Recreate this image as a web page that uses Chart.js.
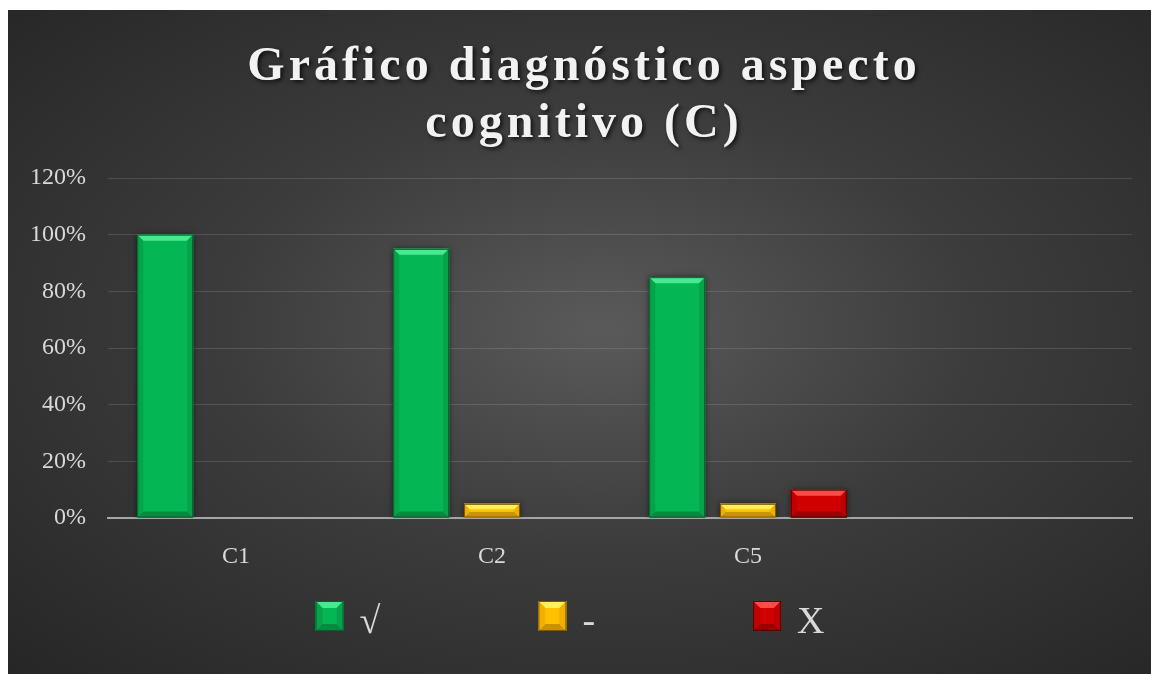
<!DOCTYPE html>
<html>
<head>
<meta charset="utf-8">
<script src="https://cdn.jsdelivr.net/npm/chart.js@4.4.1/dist/chart.umd.min.js"></script>
<style>
  html, body { margin: 0; padding: 0; background: #ffffff; width: 1151px; height: 674px; overflow: hidden; }
  #wrap {
    position: absolute; left: 8px; top: 10px; width: 1143px; height: 664px;
    background: radial-gradient(ellipse farthest-corner at 52% 48%, #5a5a5a 0%, #3c3c3c 45%, #262626 100%);
  }
  canvas { display: block; }
</style>
</head>
<body>
<div id="wrap"><canvas id="c" width="1143" height="664"></canvas></div>
<script>
const titleLines = ['Gráfico diagnóstico aspecto', 'cognitivo (C)'];
const categories = ['C1', 'C2', 'C5', ''];
const seriesNames = ['√', '-', 'X'];
const checkValues = [100, 95, 85, null];
const dashValues = [0, 5, 5, null];
const crossValues = [0, 0, 10, null];
const yTicks = [0, 20, 40, 60, 80, 100, 120];

const palette = [
  { main: '#05b654', light: '#46e890', dark: '#078a3f', side: '#06a34b', edge: '#05602c' },
  { main: '#ffc000', light: '#fff05a', dark: '#c89200', side: '#f0b000', edge: '#7a5a00' },
  { main: '#d00000', light: '#ff4a4a', dark: '#9a0000', side: '#bf0000', edge: '#5a0000' }
];

const titlePlugin = {
  id: 'customTitle',
  afterDraw(chart) {
    const ctx = chart.ctx;
    ctx.save();
    ctx.font = 'bold 48px "Liberation Serif"';
    ctx.letterSpacing = '4px';
    ctx.fillStyle = '#f2f2f2';
    ctx.textAlign = 'center';
    ctx.textBaseline = 'alphabetic';
    ctx.shadowColor = 'rgba(0,0,0,0.75)';
    ctx.shadowBlur = 4;
    ctx.shadowOffsetX = 2;
    ctx.shadowOffsetY = 2;
    const baselines = [70, 127];
    titleLines.forEach((t, i) => ctx.fillText(t, 576, baselines[i]));
    ctx.restore();
  }
};

function bevelBox(ctx, L, T, R, B, p, b) {
  ctx.fillStyle = p.main;
  ctx.fillRect(L, T, R - L, B - T);
  const poly = (pts, col) => {
    ctx.beginPath();
    ctx.moveTo(pts[0][0], pts[0][1]);
    for (let i = 1; i < pts.length; i++) ctx.lineTo(pts[i][0], pts[i][1]);
    ctx.closePath();
    ctx.fillStyle = col;
    ctx.fill();
  };
  poly([[L, T], [R, T], [R - b, T + b], [L + b, T + b]], p.light);
  poly([[L, B], [R, B], [R - b, B - b], [L + b, B - b]], p.dark);
  poly([[L, T], [L + b, T + b], [L + b, B - b], [L, B]], p.side);
  poly([[R, T], [R - b, T + b], [R - b, B - b], [R, B]], p.side);
  ctx.strokeStyle = p.edge;
  ctx.lineWidth = 1;
  ctx.strokeRect(L + 0.5, T + 0.5, R - L - 1, B - T - 1);
}

const bevelPlugin = {
  id: 'bevel',
  beforeDatasetsDraw(chart) {
    const ctx = chart.ctx;
    ctx.save();
    ctx.shadowColor = 'rgba(0,0,0,0.55)';
    ctx.shadowBlur = 6;
  },
  afterDatasetsDraw(chart) {
    const ctx = chart.ctx;
    ctx.restore();
    chart.data.datasets.forEach((ds, di) => {
      const meta = chart.getDatasetMeta(di);
      const p = palette[di];
      meta.data.forEach(el => {
        if (el.skip) return;
        const L = el.x - el.width / 2, R = el.x + el.width / 2;
        const T = Math.min(el.y, el.base), B = Math.max(el.y, el.base);
        const h = B - T;
        if (!(h > 1)) return;
        const b = Math.min(6, h / 2.5);
        ctx.save();
        bevelBox(ctx, L, T, R, B, p, b);
        ctx.restore();
      });
    });
  }
};

const legendPlugin = {
  id: 'customLegend',
  afterDraw(chart) {
    const ctx = chart.ctx;
    ctx.save();
    ctx.font = '38px "Liberation Serif"';
    const boxW = 28, boxH = 30, textGap = 16, itemGap = 158;
    const items = chart.data.datasets.map((ds, i) => ({
      label: ds.label, p: palette[i], tw: ctx.measureText(ds.label).width
    }));
    let total = 0;
    items.forEach((it, i) => { total += boxW + textGap + it.tw + (i ? itemGap : 0); });
    let x = 570 - 8 - total / 2;
    const top = 591, baseline = 623;
    items.forEach(it => {
      bevelBox(ctx, x, top, x + boxW, top + boxH, it.p, 7);
      ctx.fillStyle = '#d9d9d9';
      ctx.textBaseline = 'alphabetic';
      ctx.fillText(it.label, x + boxW + textGap, baseline);
      x += boxW + textGap + it.tw + itemGap;
    });
    ctx.restore();
  }
};

const mkDs = (label, data, i) => ({
  label, data,
  backgroundColor: palette[i].main,
  borderWidth: 0,
  categoryPercentage: 0.83,
  barPercentage: 0.79
});

new Chart(document.getElementById('c'), {
  type: 'bar',
  data: {
    labels: categories,
    datasets: [
      mkDs(seriesNames[0], checkValues, 0),
      mkDs(seriesNames[1], dashValues, 1),
      mkDs(seriesNames[2], crossValues, 2)
    ]
  },
  options: {
    responsive: false,
    animation: false,
    layout: { padding: { top: 168, right: 19, bottom: 90, left: 0 } },
    plugins: {
      legend: { display: false },
      title: { display: false },
      tooltip: { enabled: false }
    },
    scales: {
      x: {
        grid: { display: false, drawTicks: false },
        border: { display: true, color: '#a6a6a6', width: 2 },
        ticks: { color: '#d9d9d9', font: { family: 'Liberation Serif', size: 24 }, padding: 24 },
        afterFit(s) { s.height = 66; }
      },
      y: {
        min: 0, max: 120,
        afterBuildTicks(s) { s.ticks = yTicks.map(v => ({ value: v })); },
        grid: {
          drawTicks: false,
          color: ctx => (ctx.tick && ctx.tick.value === 0) ? 'rgba(0,0,0,0)' : 'rgba(255,255,255,0.13)',
          lineWidth: 1
        },
        border: { display: false },
        ticks: {
          color: '#d9d9d9', font: { family: 'Liberation Serif', size: 24 }, padding: 22,
          callback: v => v + '%'
        },
        afterFit(s) { s.width = 100; }
      }
    }
  },
  plugins: [bevelPlugin, titlePlugin, legendPlugin]
});
</script>
</body>
</html>
